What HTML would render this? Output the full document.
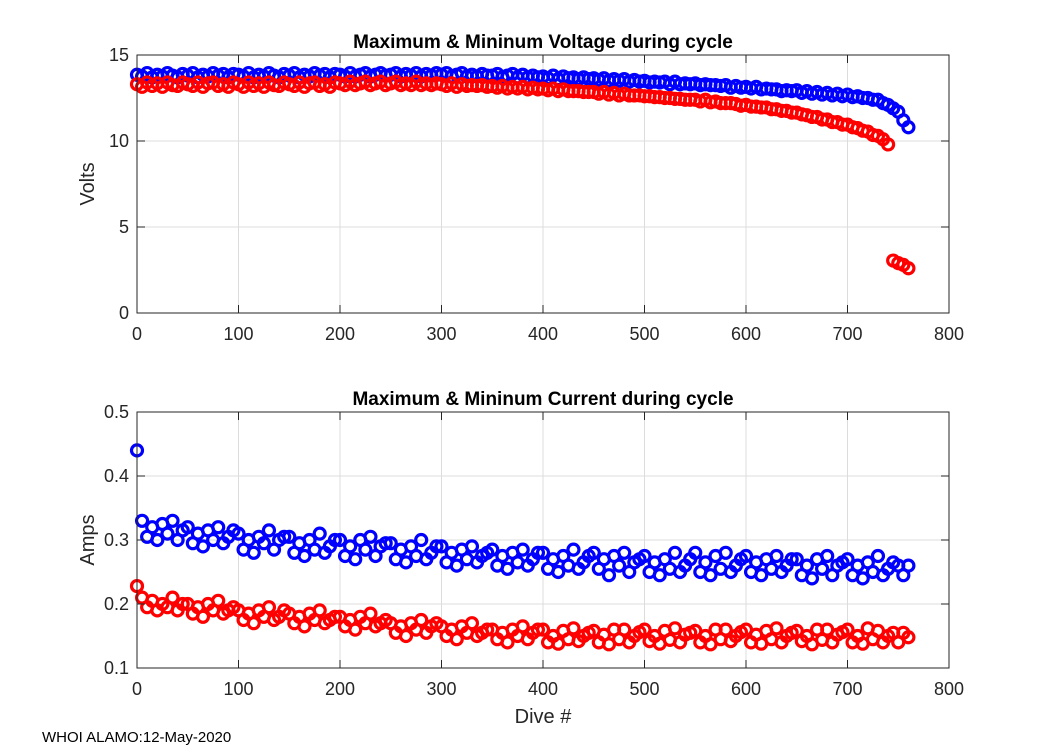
<!DOCTYPE html>
<html><head><meta charset="utf-8"><style>
body{margin:0;background:#fff;}
svg{display:block;font-family:"Liberation Sans",Arial,sans-serif;}
</style></head><body>
<svg id="fig" width="1050" height="750">
<rect width="1050" height="750" fill="#fff"/>
</svg>
<script>
const diveStep = 5;
const xTicks = [0,100,200,300,400,500,600,700,800];
const vTicks = [0,5,10,15];
const aTicks = [0.1,0.2,0.3,0.4,0.5];
const vMax = [
13.85,13.75,13.95,13.7,13.85,13.75,13.95,13.8,13.7,13.9,
13.8,13.95,13.7,13.85,13.75,13.95,13.8,13.9,13.7,13.9,
13.85,13.75,13.95,13.7,13.85,13.75,13.95,13.8,13.7,13.9,
13.8,13.95,13.7,13.85,13.75,13.95,13.8,13.9,13.7,13.9,
13.85,13.75,13.95,13.75,13.85,13.95,13.75,13.85,13.95,13.8,
13.85,13.95,13.75,13.9,13.8,13.95,13.75,13.9,13.8,13.95,
13.85,13.95,13.75,13.85,13.95,13.75,13.85,13.75,13.9,13.8,
13.8,13.9,13.7,13.8,13.9,13.7,13.85,13.7,13.8,13.7,
13.75,13.65,13.8,13.6,13.75,13.65,13.7,13.6,13.7,13.6,
13.65,13.55,13.65,13.5,13.6,13.5,13.6,13.45,13.55,13.45,
13.5,13.4,13.45,13.4,13.45,13.3,13.45,13.3,13.35,13.3,
13.35,13.25,13.3,13.25,13.25,13.2,13.25,13.1,13.2,13.1,
13.15,13.05,13.15,13.0,13.05,13.0,13.0,12.9,12.95,12.9,
12.95,12.8,12.9,12.75,12.85,12.7,12.8,12.65,12.75,12.6,
12.7,12.55,12.6,12.5,12.5,12.4,12.4,12.2,12.1,11.9,
11.7,11.2,10.8];
const vMin = [
13.3,13.15,13.4,13.2,13.35,13.15,13.4,13.25,13.2,13.4,
13.3,13.2,13.4,13.15,13.35,13.4,13.2,13.3,13.15,13.4,
13.3,13.15,13.4,13.2,13.35,13.15,13.4,13.25,13.2,13.4,
13.3,13.2,13.4,13.15,13.35,13.4,13.2,13.3,13.15,13.4,
13.35,13.25,13.45,13.25,13.35,13.45,13.25,13.35,13.45,13.25,
13.35,13.45,13.25,13.35,13.25,13.45,13.25,13.35,13.25,13.35,
13.3,13.2,13.35,13.15,13.3,13.2,13.25,13.2,13.25,13.15,
13.2,13.1,13.2,13.05,13.15,13.05,13.15,13.0,13.1,13.0,
13.05,12.95,13.05,12.9,13.0,12.9,12.9,12.9,12.85,12.85,
12.85,12.75,12.85,12.7,12.8,12.65,12.75,12.65,12.65,12.65,
12.6,12.6,12.55,12.55,12.5,12.5,12.45,12.45,12.4,12.4,
12.4,12.3,12.4,12.25,12.3,12.2,12.2,12.2,12.15,12.05,
12.1,12.0,12.0,11.95,11.95,11.85,11.85,11.75,11.75,11.65,
11.65,11.55,11.5,11.4,11.4,11.25,11.25,11.1,11.1,10.95,
10.95,10.8,10.75,10.6,10.55,10.35,10.3,10.1,9.8,3.05,
2.9,2.8,2.6];
const iMax = [
0.44,0.33,0.305,0.32,0.3,0.325,0.31,0.33,0.3,0.315,
0.32,0.295,0.31,0.29,0.315,0.3,0.32,0.295,0.305,0.315,
0.31,0.285,0.3,0.28,0.305,0.295,0.315,0.285,0.3,0.305,
0.305,0.28,0.295,0.275,0.3,0.285,0.31,0.28,0.29,0.3,
0.3,0.275,0.29,0.27,0.3,0.285,0.305,0.275,0.29,0.295,
0.295,0.27,0.285,0.265,0.29,0.275,0.3,0.27,0.28,0.29,
0.29,0.265,0.28,0.26,0.285,0.27,0.29,0.265,0.275,0.28,
0.285,0.26,0.275,0.255,0.28,0.265,0.285,0.26,0.27,0.28,
0.28,0.255,0.27,0.25,0.275,0.26,0.285,0.255,0.265,0.275,
0.28,0.255,0.27,0.245,0.275,0.26,0.28,0.25,0.265,0.27,
0.275,0.25,0.265,0.245,0.27,0.255,0.28,0.25,0.26,0.27,
0.28,0.25,0.265,0.245,0.275,0.255,0.28,0.25,0.26,0.27,
0.275,0.25,0.265,0.245,0.27,0.255,0.275,0.25,0.26,0.27,
0.27,0.245,0.26,0.24,0.27,0.255,0.275,0.245,0.26,0.265,
0.27,0.245,0.26,0.24,0.265,0.25,0.275,0.245,0.255,0.265,
0.26,0.245,0.26];
const iMin = [
0.228,0.21,0.195,0.205,0.19,0.2,0.195,0.21,0.19,0.2,
0.2,0.185,0.195,0.18,0.2,0.19,0.205,0.185,0.19,0.195,
0.19,0.175,0.185,0.17,0.19,0.18,0.195,0.175,0.18,0.19,
0.185,0.17,0.18,0.165,0.185,0.175,0.19,0.17,0.175,0.18,
0.18,0.165,0.175,0.16,0.18,0.17,0.185,0.165,0.17,0.175,
0.17,0.155,0.165,0.15,0.17,0.16,0.175,0.155,0.165,0.17,
0.165,0.15,0.16,0.145,0.165,0.155,0.17,0.15,0.155,0.16,
0.16,0.145,0.155,0.14,0.16,0.15,0.165,0.145,0.155,0.16,
0.16,0.14,0.15,0.138,0.158,0.145,0.162,0.142,0.15,0.155,
0.158,0.14,0.152,0.137,0.16,0.145,0.16,0.14,0.15,0.156,
0.16,0.142,0.15,0.138,0.158,0.144,0.162,0.14,0.152,0.155,
0.158,0.14,0.15,0.137,0.16,0.145,0.16,0.142,0.15,0.156,
0.16,0.14,0.152,0.138,0.158,0.145,0.162,0.14,0.15,0.155,
0.158,0.142,0.15,0.137,0.16,0.144,0.16,0.14,0.152,0.156,
0.16,0.14,0.15,0.138,0.162,0.145,0.158,0.14,0.15,0.155,
0.14,0.155,0.148];

const NS="http://www.w3.org/2000/svg";
const svg=document.getElementById('fig');
function el(tag,attrs,parent){const e=document.createElementNS(NS,tag);for(const k in attrs)e.setAttribute(k,attrs[k]);(parent||svg).appendChild(e);return e;}
const L=137,R=949;
function xs(v){return L+(v-0)/(800-0)*(R-L);}

function axes(name,top,bot,ymin,ymax,ticks,fmt,title,ylabel,hi,lo){
  const ys=v=>bot-(v-ymin)/(ymax-ymin)*(bot-top);
  const g=el('g',{});
  
  
  xTicks.forEach(t=>{const l=el('line',{x1:xs(t),x2:xs(t),y1:top,y2:bot,stroke:'#dcdcdc','stroke-width':1},g);
    });
  ticks.forEach(t=>{const l=el('line',{x1:L,x2:R,y1:ys(t),y2:ys(t),stroke:'#dcdcdc','stroke-width':1},g);
    });
  const series=[[hi,'#0000ff','max-series'],[lo,'#ff0000','min-series']];
  series.forEach(([arr,col,nm])=>{
    const sg=el('g',{},g);
    
    
    arr.forEach((v,i)=>{
      const c=el('circle',{cx:xs(i*diveStep),cy:ys(v),r:5.5,fill:'none',stroke:col,'stroke-width':3.2},sg);
      
      
    });
  });
  const b=el('rect',{x:L,y:top,width:R-L,height:bot-top,fill:'none',stroke:'#262626','stroke-width':1},g);
  
  xTicks.forEach(t=>{
    el('line',{x1:xs(t),x2:xs(t),y1:bot,y2:bot-8,stroke:'#262626'},g);
    el('line',{x1:xs(t),x2:xs(t),y1:top,y2:top+8,stroke:'#262626'},g);
    const tx=el('text',{x:xs(t),y:bot+27,'text-anchor':'middle','font-size':18,fill:'#262626'},g);
    tx.textContent=t;
    
  });
  ticks.forEach(t=>{
    el('line',{x1:L,x2:L+8,y1:ys(t),y2:ys(t),stroke:'#262626'},g);
    el('line',{x1:R,x2:R-8,y1:ys(t),y2:ys(t),stroke:'#262626'},g);
    const tx=el('text',{x:L-8,y:ys(t)+6,'text-anchor':'end','font-size':18,fill:'#262626'},g);
    tx.textContent=fmt(t);
    
  });
  const ti=el('text',{x:(L+R)/2,y:top-7,'text-anchor':'middle','font-size':19,'font-weight':'bold',fill:'#000'},g);
  ti.textContent=title;
  const yl=el('text',{x:0,y:0,'text-anchor':'middle','font-size':20,fill:'#262626',transform:`translate(94,${(top+bot)/2}) rotate(-90)`},g);
  yl.textContent=ylabel;
}
axes('voltage-chart',55,313,0,15,vTicks,t=>String(t),'Maximum & Mininum Voltage during cycle','Volts',vMax,vMin);
axes('current-chart',412,668,0.1,0.5,aTicks,t=>t.toFixed(1),'Maximum & Mininum Current during cycle','Amps',iMax,iMin);
const xl=el('text',{x:(L+R)/2,y:723,'text-anchor':'middle','font-size':20,fill:'#262626'});
xl.textContent='Dive #';
const ft=el('text',{x:42,y:742,'font-size':15,fill:'#000'});
ft.textContent='WHOI ALAMO:12-May-2020';
</script>
</body></html>
